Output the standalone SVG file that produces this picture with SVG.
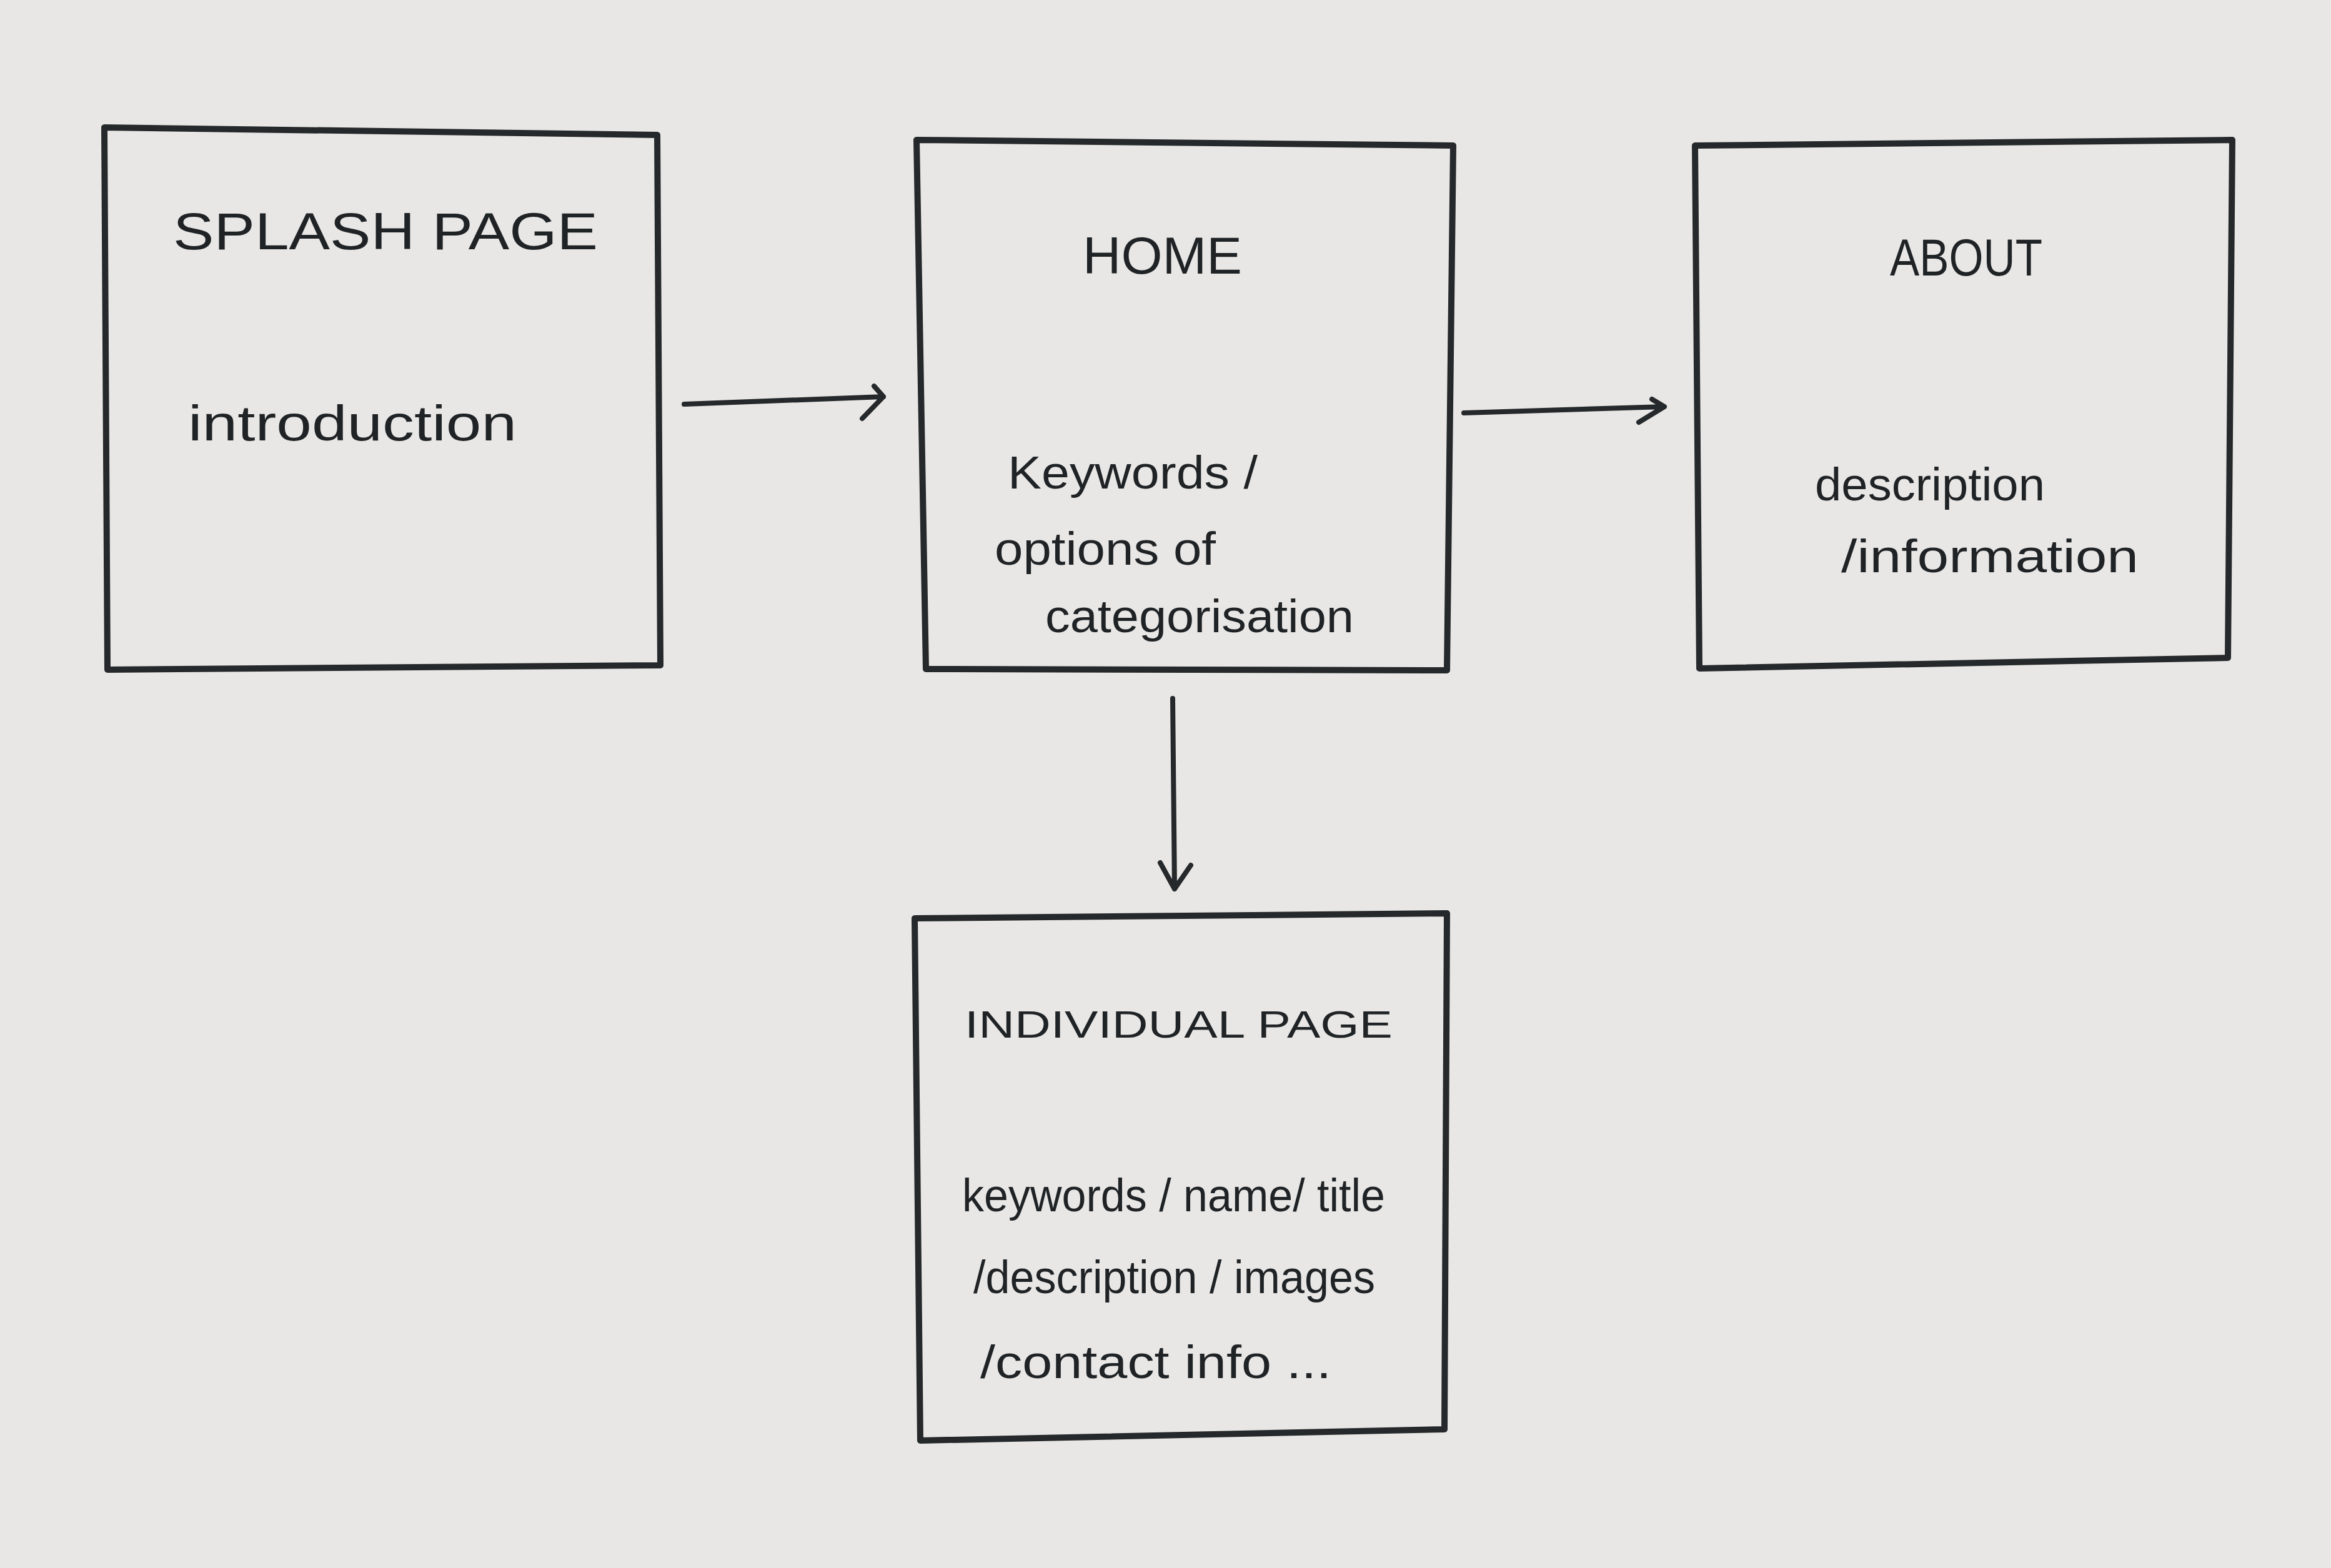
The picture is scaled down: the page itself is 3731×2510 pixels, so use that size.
<svg xmlns="http://www.w3.org/2000/svg" width="3731" height="2510" viewBox="0 0 3731 2510">
<style>
.box{fill:none;stroke:#25292b;stroke-width:10;stroke-linejoin:round;stroke-linecap:round}
.con{fill:none;stroke:#25292b;stroke-width:8;stroke-linecap:round;stroke-linejoin:round}
.t{font-family:"Liberation Sans","DejaVu Sans",sans-serif;fill:#1f2326}
.cap{font-size:84px}
.low{font-size:80px}
.mid{font-size:74px}
.sm{font-size:62px}
</style>
<rect x="0" y="0" width="3731" height="2510" fill="#e8e7e5"/>
<g id="splash">
<polygon class="box" points="167,204 1052,216 1057,1065 172,1072"/>
<text class="t cap" x="277" y="399" textLength="680" lengthAdjust="spacingAndGlyphs">SPLASH PAGE</text>
<text class="t low" x="301" y="705" textLength="526" lengthAdjust="spacingAndGlyphs">introduction</text>
</g>
<g id="home">
<polygon class="box" points="1467,224 2326,233 2316,1073 1482,1071"/>
<text class="t cap" x="1733" y="438" textLength="255" lengthAdjust="spacingAndGlyphs">HOME</text>
<text class="t mid" x="1613" y="782" textLength="400" lengthAdjust="spacingAndGlyphs">Keywords /</text>
<text class="t mid" x="1592" y="904" textLength="354" lengthAdjust="spacingAndGlyphs">options of</text>
<text class="t mid" x="1673" y="1012" textLength="494" lengthAdjust="spacingAndGlyphs">categorisation</text>
</g>
<g id="about">
<polygon class="box" points="2713,233 3573,224 3566,1053 2720,1070"/>
<text class="t cap" x="3025" y="441" textLength="244" lengthAdjust="spacingAndGlyphs">ABOUT</text>
<text class="t mid" x="2905" y="801" textLength="368" lengthAdjust="spacingAndGlyphs">description</text>
<text class="t mid" x="2947" y="916" textLength="476" lengthAdjust="spacingAndGlyphs">/information</text>
</g>
<g id="individual">
<polygon class="box" points="1464,1470 2316,1462 2312,2288 1473,2306"/>
<text class="t sm" x="1544" y="1661" textLength="685" lengthAdjust="spacingAndGlyphs">INDIVIDUAL PAGE</text>
<text class="t mid" x="1540" y="1939" textLength="677" lengthAdjust="spacingAndGlyphs">keywords / name/ title</text>
<text class="t mid" x="1558" y="2070" textLength="643" lengthAdjust="spacingAndGlyphs">/description / images</text>
<text class="t mid" x="1569" y="2206" textLength="562" lengthAdjust="spacingAndGlyphs">/contact info ...</text>
</g>
<g id="connectors">
<path class="con" d="M1095,647 L1414,635 M1399,618 L1414,635 L1380,670"/>
<path class="con" d="M2343,661 L2664,651 M2644,639 L2664,651 L2623,676"/>
<path class="con" d="M1877,1118 L1880,1423 M1857,1381 L1880,1423 L1906,1385"/>
</g>
</svg>
